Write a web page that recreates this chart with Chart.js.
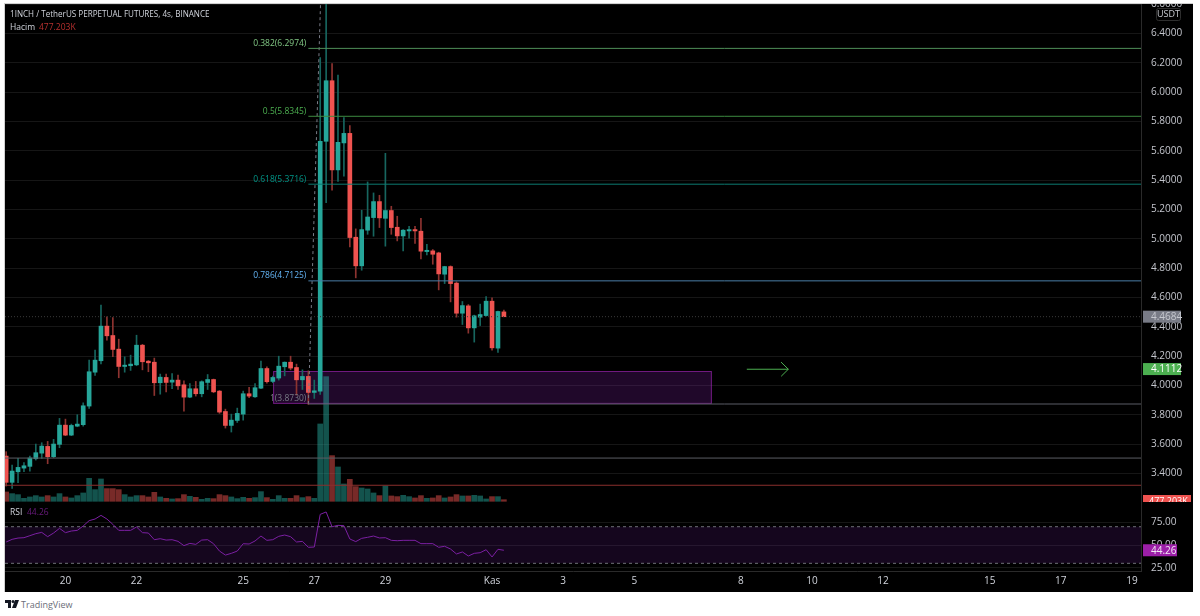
<!DOCTYPE html>
<html><head><meta charset="utf-8">
<script src="https://cdn.jsdelivr.net/npm/chart.js@4"></script>
<style>
html,body{margin:0;padding:0;background:#fff;width:1200px;height:616px;overflow:hidden}
#frame{position:absolute;left:4px;top:3px;width:1188px;height:588px;background:#000;border-left:1px solid #d0d0d0;border-top:1px solid #d0d0d0}
#c{position:absolute;left:5px;top:4px}
#brand{position:absolute;left:5px;top:597px;height:14px;display:flex;align-items:center;font:9px "Open Sans",sans-serif;color:#6a6d78}
#brand svg{margin-right:2px}
</style></head><body>
<div id="frame"></div>
<canvas id="c" width="1187" height="587"></canvas>
<div id="brand"><svg width="14" height="8" viewBox="0 0 14 8"><path d="M0 0h6v8H3V3H0z M10 0h4l-3 8H7z" fill="#131722"/><circle cx="8" cy="1.6" r="1.5" fill="#131722"/></svg>TradingView</div>
<script>
const opens=[3.518,3.339,3.411,3.436,3.448,3.500,3.538,3.584,3.514,3.598,
3.729,3.661,3.722,3.732,3.859,4.090,4.168,4.404,4.340,4.247,
4.129,4.134,4.140,4.274,4.165,4.158,4.018,4.054,4.022,4.036,
4.004,3.920,3.977,3.943,4.020,4.040,3.961,3.822,3.727,3.761,
3.804,3.943,3.922,3.981,4.115,4.027,4.050,4.127,4.158,4.122,
4.038,4.061,3.952,3.960,5.664,6.077,5.469,5.653,5.718,5.010,
4.815,5.058,5.144,5.253,5.139,5.192,5.078,5.019,5.053,5.062,
5.051,4.912,4.917,4.903,4.758,4.810,4.697,4.492,4.542,4.392,
4.465,4.476,4.574,4.254,4.501];
const highs=[3.548,3.457,3.502,3.473,3.518,3.600,3.609,3.618,3.632,3.775,
3.770,3.736,3.800,3.881,4.172,4.240,4.547,4.467,4.463,4.315,
4.195,4.206,4.342,4.280,4.170,4.186,4.077,4.077,4.081,4.070,
4.031,4.013,4.027,4.031,4.074,4.043,3.965,3.838,3.804,3.845,
3.961,3.986,4.013,4.165,4.127,4.063,4.199,4.160,4.199,4.145,
4.106,4.099,4.036,6.234,6.75,6.193,6.116,5.825,5.771,5.067,
5.194,5.387,5.312,5.296,5.582,5.221,5.153,5.062,5.085,5.085,
5.139,4.962,4.926,4.908,4.812,4.815,4.706,4.572,4.551,4.479,
4.554,4.606,4.597,4.506,4.513];
const lows=[3.314,3.298,3.336,3.411,3.416,3.491,3.502,3.466,3.507,3.575,
3.657,3.657,3.718,3.722,3.843,4.068,4.147,4.308,4.195,4.052,
4.090,4.102,4.134,4.106,4.093,3.931,3.940,3.956,3.977,3.972,
3.825,3.916,3.927,3.922,3.972,3.950,3.809,3.709,3.682,3.747,
3.763,3.916,3.918,3.977,4.015,4.018,4.036,4.065,4.106,3.934,
3.972,3.870,3.911,3.938,5.246,5.330,5.391,5.426,4.944,4.733,
4.785,5.030,5.017,5.076,4.949,5.030,4.985,4.917,5.003,4.967,
4.862,4.890,4.826,4.651,4.694,4.569,4.465,4.415,4.356,4.295,
4.408,4.472,4.240,4.224,4.468];
const closes=[3.339,3.416,3.441,3.452,3.505,3.541,3.586,3.514,3.600,3.729,
3.661,3.727,3.736,3.861,4.093,4.172,4.404,4.338,4.245,4.129,
4.138,4.145,4.274,4.161,4.154,4.018,4.056,4.020,4.036,3.997,
3.920,3.977,3.943,4.025,4.040,3.956,3.818,3.727,3.763,3.809,
3.943,3.927,3.984,4.115,4.025,4.054,4.131,4.158,4.118,4.038,
4.061,3.952,3.963,5.664,6.077,5.469,5.657,5.718,5.008,4.815,
5.062,5.148,5.253,5.142,5.192,5.076,5.019,5.058,5.062,5.053,
4.915,4.921,4.894,4.760,4.810,4.694,4.492,4.544,4.392,4.474,
4.483,4.574,4.256,4.504,4.468];
const volumes=[2800,2300,2000,900,1300,1700,1300,1700,1300,2300,
1300,1000,1700,2500,6900,3500,6700,3800,3800,3500,
2000,1300,1700,1700,1300,2700,1300,900,700,800,
2000,1500,1200,600,900,800,2000,1700,1300,800,
1200,900,1100,2900,1100,600,1700,900,900,1700,
1100,1400,900,23200,37400,13700,10300,5200,6600,4400,
4000,3700,2500,1700,4600,1600,1400,1800,1400,1000,
1700,900,1000,1700,1000,1300,2000,1600,1600,1800,
1600,700,1400,1400,477.203];
const rsiValues=[53.3,56.2,57.6,58.0,60.2,62.4,63.8,59.1,63.1,68.2,
63.5,65.3,66.0,70.8,76.6,78.4,82.4,78.4,72.6,66.0,
66.0,66.0,69.7,63.5,63.1,55.8,56.9,55.4,55.8,54.0,
49.3,51.8,50.7,55.4,55.8,51.4,43.4,39.0,40.9,43.4,
51.4,51.1,54.4,59.8,55.1,55.8,59.5,60.9,59.1,53.3,
54.0,47.5,47.8,83.5,86.1,70.0,71.5,71.1,56.6,53.7,
57.3,58.4,59.8,57.7,58.0,55.1,54.7,55.1,55.1,55.1,
51.5,51.5,51.5,47.5,48.6,45.6,40.2,42.4,38.0,40.9,
41.6,44.9,36.9,45.3,44.26];
const dayTicks=[10,22,40,52,64,82,94,106,124,136,148,166,178,190];
const dayLabels=['20','22','25','27','29','Kas','3','5','8','10','12','15','17','19'];
const priceTicks=[3.4,3.6,3.8,4.0,4.2,4.4,4.6,4.8,5.0,5.2,5.4,5.6,5.8,6.0,6.2,6.4,6.6];
const rsiTicks=[25,50,75];
const fibLevels=[6.2974,5.8345,5.3716,4.7125,3.8730];
const fibNames=['0.382(6.2974)','0.5(5.8345)','0.618(5.3716)','0.786(4.7125)','1(3.8730)'];
const fibLine=['#4f8f58','#3d8a40','#0c7a70','#4a7da6','#5a5c66'];
const fibText=['#81c784','#4caf50','#009688','#64b5f6','#787b86'];
const fibStart=51, xMin=-0.2, xMax=191.53;
const zone={x0:45.05,x1:119.1,top:4.098,bottom:3.874};
const trendX=[51,53.05], trendY=[3.873,6.6];
const arrowX=[125,132,130.8,132,130.8], arrowY=[4.11,4.11,4.158,4.11,4.062];
const level1=3.5045, level2=3.319, lastPrice=4.4684, lastRsi=44.26, targetTag=4.1112;
const FONT='"Open Sans",sans-serif';
const GREEN='#26a69a',RED='#ef5350';
const up=closes.map((c,i)=>c>=opens[i]);
const idx=opens.map((_,i)=>i);
const hline=(y,x0,x1,color,extra)=>Object.assign({type:'line',data:[{x:x0,y},{x:x1,y}],borderColor:color,borderWidth:1,pointRadius:0,yAxisID:'yP',order:2},extra||{});
const noPad=s=>{s.paddingLeft=s.paddingRight=s.paddingTop=s.paddingBottom=0;};

const overlay={id:'overlay',
 beforeDatasetsDraw(ch){
  const c=ch.ctx,x=ch.scales.x,y=ch.scales.yP;
  const l=x.getPixelForValue(zone.x0),r=x.getPixelForValue(zone.x1),t=y.getPixelForValue(zone.top),b=y.getPixelForValue(zone.bottom);
  c.save();c.fillStyle='rgba(123,31,162,0.26)';c.fillRect(l,t,r-l,b-t);
  c.strokeStyle='rgba(156,39,176,0.65)';c.lineWidth=1;c.strokeRect(l+.5,t+.5,r-l-1,b-t-1);c.restore();
 },
 afterDraw(ch){
  const c=ch.ctx,y=ch.scales.yP,r=ch.scales.yR,x=ch.scales.x;c.save();
  c.textBaseline='middle';
  c.font='8.5px '+FONT;c.textAlign='right';
  fibLevels.forEach((v,i)=>{c.fillStyle=fibText[i];c.fillText(fibNames[i],x.getPixelForValue(fibStart)-2,y.getPixelForValue(v)-5);});
  c.textAlign='left';
  c.fillStyle='#d1d4dc';c.font='8.1px '+FONT;c.fillText('1INCH / TetherUS PERPETUAL FUTURES, 4s, BINANCE',5,10.5);
  c.font='8.5px '+FONT;c.fillText('Hacim',5,23.5);
  c.fillStyle='#b7312f';c.fillText('477.203K',34,23.5);
  c.fillStyle='#d1d4dc';c.fillText('RSI',5,509);
  c.fillStyle='#6a1b7e';c.fillText('44.26',22,509);
  const ax=1138;
  const tag=(val,scale,w,bg,fg,txt)=>{const p=scale.getPixelForValue(val);c.fillStyle=bg;c.fillRect(ax,p-6,w,12);c.fillStyle=fg;c.font='10px '+FONT;c.fillText(txt,ax+8,p+.5);};
  tag(lastPrice,y,38,'#787b86','#c6c8cf',lastPrice.toFixed(4));
  tag(targetTag,y,38,'#4caf50','#ffffff',targetTag.toFixed(4));
  tag(lastRsi,r,34,'#9c1fa8','#f0e6f2',lastRsi.toFixed(2));
  c.save();c.beginPath();c.rect(ax,491,48,7);c.clip();c.fillStyle='#ef5350';c.fillRect(ax,491,48,12);c.fillStyle='#fff';c.font='9px '+FONT;c.fillText('477.203K',ax+6,497);c.restore();
  c.strokeStyle='#2e2e2e';c.lineWidth=1;c.beginPath();c.roundRect(1151.5,4.5,24,12,2);c.stroke();
  c.fillStyle='#c8cad0';c.textAlign='center';c.font='9px '+FONT;c.fillText('USDT',1163.5,10.8);
  c.restore();
 }};

new Chart(document.getElementById('c'),{
 type:'bar',
 plugins:[overlay],
 data:{datasets:[
  {type:'line',data:[{x:xMin,y:70},{x:xMax,y:70}],yAxisID:'yR',borderColor:'#6f7078',borderWidth:1,borderDash:[3,3],pointRadius:0,fill:{target:{value:30}},backgroundColor:'rgba(103,30,150,0.2)',order:12},
  {type:'line',data:[{x:xMin,y:30},{x:xMax,y:30}],yAxisID:'yR',borderColor:'#6f7078',borderWidth:1,borderDash:[3,3],pointRadius:0,order:11},
  {type:'line',data:idx.map(i=>({x:i,y:rsiValues[i]})),yAxisID:'yR',borderColor:'#7b1fa2',borderWidth:1,pointRadius:0,tension:0,order:1},
  {data:idx.map(i=>({x:i,y:volumes[i]})),yAxisID:'yV',grouped:false,barThickness:5,backgroundColor:up.map(u=>u?'rgba(38,166,154,0.5)':'rgba(239,83,80,0.5)'),order:9},
  {data:idx.map(i=>({x:i,y:[lows[i],highs[i]]})),yAxisID:'yP',grouped:false,barThickness:1,backgroundColor:up.map(u=>u?'#17665f':'#8d3330'),order:6},
  {data:idx.map(i=>({x:i,y:[opens[i],closes[i]]})),yAxisID:'yP',grouped:false,barThickness:4,minBarLength:1,backgroundColor:up.map(u=>u?GREEN:RED),order:5},
  hline(level1,xMin,xMax,'#5b5d63'),
  hline(level2,xMin,xMax,'#8a2f2d'),
  hline(lastPrice,xMin,xMax,'#3a3a3a',{borderDash:[1,2]}),
  ...fibLevels.map((v,i)=>hline(v,fibStart,xMax,fibLine[i])),
  {type:'line',data:trendX.map((v,i)=>({x:v,y:trendY[i]})),yAxisID:'yP',borderColor:'#787b86',borderWidth:1,borderDash:[3,3],pointRadius:0,order:2},
  {type:'line',data:arrowX.map((v,i)=>({x:v,y:arrowY[i]})),yAxisID:'yP',borderColor:'#4caf50',borderWidth:1,pointRadius:0,order:2}
 ]},
 options:{
  responsive:false,animation:false,devicePixelRatio:1,
  layout:{autoPadding:false,padding:0},
  plugins:{legend:{display:false},tooltip:{enabled:false},title:{display:false}},
  scales:{
   x:{type:'linear',offset:false,min:xMin,max:xMax,
    afterBuildTicks(s){s.ticks=dayTicks.map(v=>({value:v}));},
    afterFit(s){s.height=20;noPad(s);},
    grid:{display:false,drawTicks:false,offset:false},border:{color:'#2a2a2a'},
    ticks:{autoSkip:false,maxRotation:0,padding:4,color:'#d1d4dc',font:{family:FONT,size:10},
     callback(v){const i=dayTicks.indexOf(v);return i<0?'':dayLabels[i];}}},
   yP:{type:'linear',position:'right',stack:'main',stackWeight:498,min:3.205,max:6.6,
    afterBuildTicks(s){s.ticks=priceTicks.map(v=>({value:v}));},
    afterFit(s){s.width=51;noPad(s);},
    grid:{color:'#161616',drawTicks:false},border:{color:'#2a2a2a'},
    ticks:{autoSkip:false,padding:10,color:'#c4c6cd',font:{family:FONT,size:10},callback:v=>v.toFixed(4)}},
   yR:{type:'linear',position:'right',stack:'main',stackWeight:69,min:21.6,max:97,
    afterBuildTicks(s){s.ticks=rsiTicks.map(v=>({value:v}));},
    afterFit(s){s.width=51;noPad(s);},
    grid:{color:'#161616',drawTicks:false},border:{color:'#2a2a2a'},
    ticks:{autoSkip:false,padding:10,color:'#c4c6cd',font:{family:FONT,size:10},callback:v=>v.toFixed(2)}},
   yV:{type:'linear',display:false,min:-20910,max:149190}
  }
 }
});
</script>
</body></html>
